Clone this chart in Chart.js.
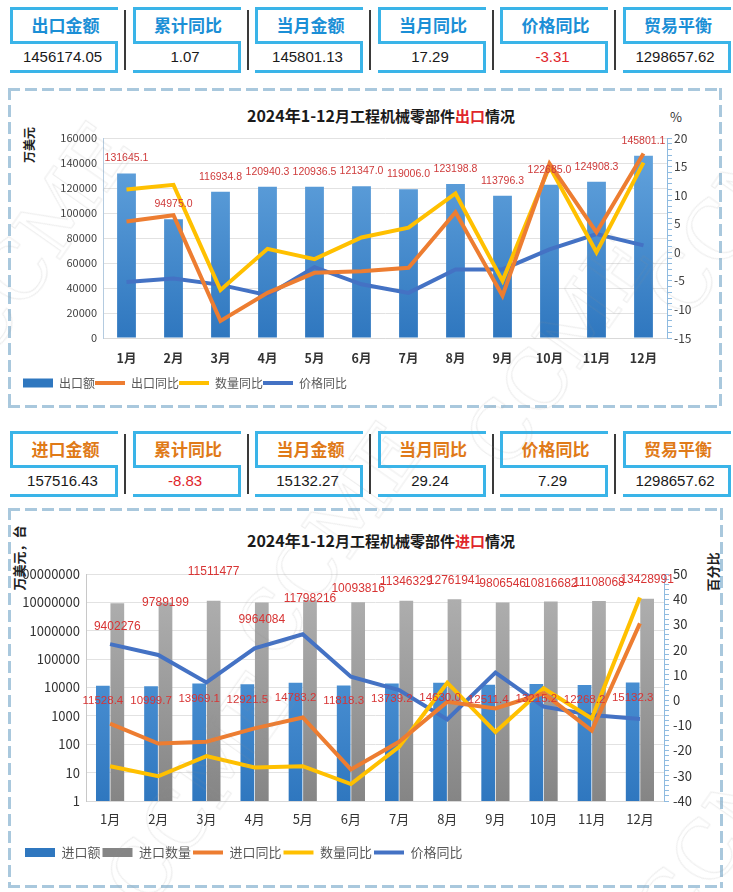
<!DOCTYPE html>
<html lang="zh-CN">
<head>
<meta charset="utf-8">
<title>2024年1-12月工程机械零部件进出口情况</title>
<script src="https://cdn.jsdelivr.net/npm/chart.js@4.4.1/dist/chart.umd.min.js"></script>
<style>
  body { margin:0; width:733px; height:892px; position:relative; overflow:hidden; background:#fff;
         font-family:"Noto Sans CJK SC","Noto Sans",sans-serif; }
  .cell { position:absolute; width:108px; height:66px; }
  .cell b { position:absolute; background:#3ab4e8; }
  .cell .t { position:absolute; left:3px; right:0; top:2px; height:32px; line-height:32px; text-align:center; font-size:17px; font-weight:700; }
  .cell .v { position:absolute; left:0; right:3px; top:36px; height:27px; line-height:27px; text-align:center; font-size:15px; color:#1a1a1a; font-family:"Liberation Sans Narrow","Liberation Sans",sans-serif; }
  .sep { position:absolute; width:2px; background:#3a3a3a; }
  .dash { position:absolute; }
  .h { height:3px; background:repeating-linear-gradient(90deg,#a9c8dd 0 12px,transparent 12px 17px); }
  .vv { width:3px; background:repeating-linear-gradient(180deg,#a9c8dd 0 12px,transparent 12px 17px); }
  .title { position:absolute; transform:translate(-50%,-50%); font-weight:700; color:#1a1a1a; white-space:nowrap; font-size:15px; }
  .title span.big { font-size:16px; }
  .title span.red { color:#e0262b; }
  .rot { position:absolute; transform:translate(-50%,-50%) rotate(-90deg); white-space:nowrap; font-weight:700; color:#222; }
  .wm { position:absolute; font:80px "DejaVu Serif",serif; color:transparent; -webkit-text-stroke:1px rgba(140,140,140,.17);
        transform:translate(-50%,-50%) rotate(-55deg); white-space:nowrap; pointer-events:none; z-index:5; }
  canvas { position:absolute; }
</style>
</head>
<body>
<div id="kpi1"></div>
<div id="kpi2"></div>

<div class="dash h" style="left:8px;top:88px;width:714px"></div>
<div class="dash h" style="left:8px;top:405px;width:714px"></div>
<div class="dash vv" style="left:8px;top:88px;height:320px"></div>
<div class="dash vv" style="left:719px;top:88px;height:320px"></div>

<div class="dash h" style="left:8px;top:508px;width:714px"></div>
<div class="dash h" style="left:8px;top:885px;width:714px"></div>
<div class="dash vv" style="left:8px;top:508px;height:380px"></div>
<div class="dash vv" style="left:720px;top:508px;height:380px"></div>

<div class="title" style="left:381px;top:115px"><span class="big">2024年1-12</span>月工程机械零部件<span class="red">出口</span>情况</div>
<div class="rot" style="left:28px;top:145px;font-size:12px">万美元</div>
<div style="position:absolute;left:670px;top:107px;font-size:13px;color:#333">%</div>
<canvas id="c1" width="710" height="312" style="left:10px;top:92px"></canvas>

<div class="title" style="left:381px;top:540px"><span class="big">2024年1-12</span>月工程机械零部件<span class="red">进口</span>情况</div>
<div class="rot" style="left:18px;top:558px;font-size:13px">万美元，台</div>
<div class="rot" style="left:712px;top:572px;font-size:13px">百分比</div>
<canvas id="c2" width="710" height="372" style="left:10px;top:512px"></canvas>

<div class="wm" style="left:40px;top:240px">CCME</div>
<div class="wm" style="left:560px;top:350px">CCME</div>
<div class="wm" style="left:330px;top:540px">CCME</div>
<div class="wm" style="left:200px;top:790px">CCME</div>
<div class="wm" style="left:730px;top:820px">CCME</div>
<div class="wm" style="left:740px;top:200px">CCME</div>

<script>
// 顶部指标
const exportKpiNames = ['出口金额', '累计同比', '当月金额', '当月同比', '价格同比', '贸易平衡'];
const exportKpiValues = ['1456174.05', '1.07', '145801.13', '17.29', '-3.31', '1298657.62'];
const importKpiNames = ['进口金额', '累计同比', '当月金额', '当月同比', '价格同比', '贸易平衡'];
const importKpiValues = ['157516.43', '-8.83', '15132.27', '29.24', '7.29', '1298657.62'];

// 月份
const months = ['1月', '2月', '3月', '4月', '5月', '6月', '7月', '8月', '9月', '10月', '11月', '12月'];

// 出口
const exportValue = [131645.1, 94975.0, 116934.8, 120940.3, 120936.5, 121347.0, 119006.0, 123198.8, 113796.3, 122685.0, 124908.3, 145801.1];
const exportYoY = [5.4, 6.5, -12.0, -7.1, -3.6, -3.3, -2.7, 7.0, -7.6, 15.5, 3.5, 17.3];
const exportQtyYoY = [11.0, 11.8, -6.6, 0.6, -1.2, 2.6, 4.3, 10.3, -5.0, 15.0, 0.0, 15.7];
const exportPriceYoY = [-5.2, -4.6, -5.7, -7.5, -2.6, -5.6, -7.1, -3.0, -3.0, 0.5, 3.2, 1.2];

// 进口
const importValue = [11528.4, 10999.7, 13969.1, 12921.5, 14783.2, 11818.3, 13739.2, 14630.0, 12511.4, 13215.2, 12268.2, 15132.3];
const importQty = [9402276, 9789199, 11511477, 9964084, 11798216, 10093816, 11346329, 12761941, 9806546, 10816682, 11108068, 13428991];
const importYoY = [-9.3, -17.2, -16.5, -11.2, -6.9, -27.5, -16.5, -0.7, -3.3, 2.7, -12.1, 30.4];
const importQtyYoY = [-26.2, -30.2, -22.2, -26.7, -26.2, -33.3, -18.5, 6.9, -12.6, 4.7, -7.3, 40.7];
const importPriceYoY = [22.2, 17.9, 7.0, 20.5, 26.1, 9.3, 4.0, -7.7, 10.9, -2.6, -5.9, -7.5];

const logTicks = [1, 10, 100, 1000, 10000, 100000, 1000000, 10000000, 100000000];

function buildKpi(el, top, names, values, titleColor) {
  let html = '';
  names.forEach(function (n, i) {
    const left = 10 + 122.5 * i;
    const neg = values[i].charAt(0) === '-';
    html += '<div class="cell" style="left:' + left + 'px;top:' + top + 'px">' +
      '<b style="left:0;top:0;width:108px;height:3px"></b>' +
      '<b style="left:0;top:0;width:3px;height:36px"></b>' +
      '<b style="left:0;top:34px;width:108px;height:3px"></b>' +
      '<b style="left:105px;top:34px;width:3px;height:32px"></b>' +
      '<b style="left:0;top:63px;width:108px;height:3px"></b>' +
      '<div class="t" style="color:' + titleColor + '">' + n + '</div>' +
      '<div class="v" style="color:' + (neg ? '#e0262b' : '#1a1a1a') + '">' + values[i] + '</div></div>';
    if (i < names.length - 1) {
      html += '<div class="sep" style="left:' + (left + 114) + 'px;top:' + (top + 3) + 'px;height:60px"></div>';
    }
  });
  document.getElementById(el).innerHTML = html;
}
buildKpi('kpi1', 7, exportKpiNames, exportKpiValues, '#1b8fd6');
buildKpi('kpi2', 431, importKpiNames, importKpiValues, '#e07a18');

Chart.defaults.font.family = '"Noto Sans CJK SC","Noto Sans",sans-serif';
Chart.defaults.color = '#404040';

function grad(c1, c2) {
  return function (c) {
    const a = c.chart.chartArea;
    if (!a) return c1;
    const g = c.chart.ctx.createLinearGradient(0, a.top, 0, a.bottom);
    g.addColorStop(0, c1);
    g.addColorStop(1, c2);
    return g;
  };
}

// 柱顶数值标签
function barLabels(id, items) {
  return {
    id: id,
    afterDatasetsDraw: function (chart) {
      const ctx = chart.ctx;
      items.forEach(function (it) {
        const meta = chart.getDatasetMeta(it.dataset);
        const vals = chart.data.datasets[it.dataset].data;
        ctx.save();
        ctx.fillStyle = it.color;
        ctx.font = it.font;
        ctx.textAlign = 'center';
        ctx.textBaseline = 'middle';
        meta.data.forEach(function (el, i) {
          const dy = it.shift ? it.shift[i] : it.offset;
          ctx.fillText(it.format(vals[i]), el.x, el.y + dy);
        });
        ctx.restore();
      });
    }
  };
}

const lineSet = function (label, data, color, axis) {
  return { type: 'line', label: label, data: data, yAxisID: axis, order: 1, borderColor: color, backgroundColor: color,
    borderWidth: 4, pointRadius: 0, pointHoverRadius: 0, pointStyle: 'line', tension: 0 };
};

// 出口图
new Chart(document.getElementById('c1'), {
  type: 'bar',
  data: {
    labels: months,
    datasets: [
      { type: 'bar', label: '出口额', data: exportValue, yAxisID: 'y', order: 2, pointStyle: 'rect',
        backgroundColor: grad('#66a6df', '#2f77bf'), barPercentage: 0.5, categoryPercentage: 0.8 },
      lineSet('出口同比', exportYoY, '#ed7d31', 'y1'),
      lineSet('数量同比', exportQtyYoY, '#ffc000', 'y1'),
      lineSet('价格同比', exportPriceYoY, '#4472c4', 'y1')
    ]
  },
  options: {
    responsive: false,
    animation: false,
    layout: { padding: { left: 13, right: 8, top: 46, bottom: 5 } },
    plugins: {
      tooltip: { enabled: false },
      legend: {
        position: 'bottom', align: 'start',
        labels: { usePointStyle: true, pointStyleWidth: 30, boxHeight: 9, padding: 0, color: '#595959',
          font: { size: 12 }, sort: function (a, b) { return a.datasetIndex - b.datasetIndex; } }
      }
    },
    scales: {
      x: {
        grid: { display: false, drawTicks: false }, border: { color: '#d9d9d9' },
        ticks: { color: '#333', font: { size: 12.5, weight: 'bold' }, padding: 13 },
        afterFit: function (s) { s.height = 39; }
      },
      y: {
        position: 'left', min: 0, max: 160000,
        ticks: { stepSize: 20000, color: '#404040', font: { size: 11 }, padding: 6,
          callback: function (v) { return String(v); } },
        grid: { color: '#e2e2e2', drawTicks: false }, border: { color: '#b4cbe0' },
        afterFit: function (s) { s.width = 80; }
      },
      y1: {
        position: 'right', min: -15, max: 20,
        ticks: { stepSize: 1, autoSkip: false, color: '#404040', font: { size: 12 }, padding: 2,
          callback: function (v) { return v % 5 === 0 ? v : ''; } },
        grid: { drawOnChartArea: false, tickLength: 5, color: '#8fbbe0' }, border: { color: '#8fbbe0' },
        afterFit: function (s) { s.width = 45; }
      }
    }
  },
  plugins: [barLabels('exportLabels', [
    { dataset: 0, offset: -15, color: '#cf3a3a', font: '10.5px "Liberation Sans",sans-serif',
      format: function (v) { return v.toFixed(1); } }
  ])]
});

// 进口图
new Chart(document.getElementById('c2'), {
  type: 'bar',
  data: {
    labels: months,
    datasets: [
      { type: 'bar', label: '进口额', data: importValue, yAxisID: 'y', order: 2, pointStyle: 'rect',
        backgroundColor: grad('#5fa3e2', '#2f77bf'), barPercentage: 0.95, categoryPercentage: 0.6 },
      { type: 'bar', label: '进口数量', data: importQty, yAxisID: 'y', order: 2, pointStyle: 'rect',
        backgroundColor: grad('#b3b3b3', '#858585'), barPercentage: 0.95, categoryPercentage: 0.6 },
      lineSet('进口同比', importYoY, '#ed7d31', 'y1'),
      lineSet('数量同比', importQtyYoY, '#ffc000', 'y1'),
      lineSet('价格同比', importPriceYoY, '#4472c4', 'y1')
    ]
  },
  options: {
    responsive: false,
    animation: false,
    layout: { padding: { left: 13, right: 8, top: 62, bottom: 15 } },
    plugins: {
      tooltip: { enabled: false },
      legend: {
        position: 'bottom', align: 'start',
        labels: { usePointStyle: true, pointStyleWidth: 30, boxHeight: 9, padding: 2, color: '#595959',
          font: { size: 13 }, sort: function (a, b) { return a.datasetIndex - b.datasetIndex; } }
      }
    },
    scales: {
      x: {
        grid: { display: false, drawTicks: false }, border: { color: '#d9d9d9' },
        ticks: { color: '#333', font: { size: 13 }, padding: 10 },
        afterFit: function (s) { s.height = 43; }
      },
      y: {
        type: 'logarithmic', position: 'left', min: 1, max: 100000000,
        afterBuildTicks: function (s) { s.ticks = logTicks.map(function (v) { return { value: v }; }); },
        ticks: { color: '#333', font: { size: 13 }, padding: 6, callback: function (v) { return String(v); } },
        grid: { color: '#e2e2e2', drawTicks: false }, border: { color: '#c8c8c8' },
        afterFit: function (s) { s.width = 63; }
      },
      y1: {
        position: 'right', min: -40, max: 50,
        ticks: { stepSize: 2, autoSkip: false, color: '#333', font: { size: 13 }, padding: 4,
          callback: function (v) { return v % 10 === 0 ? v : ''; } },
        grid: { drawOnChartArea: false, tickLength: 5, color: '#8fbbe0' }, border: { color: '#8fbbe0' },
        afterFit: function (s) { s.width = 48; }
      }
    }
  },
  plugins: [barLabels('importLabels', [
    { dataset: 0, offset: 15, color: '#d83434', font: '11.5px "Liberation Sans",sans-serif',
      format: function (v) { return v.toFixed(1); } },
    { dataset: 1, shift: [24, 0, -29, 17, -2, -14, -19, -19, -19, -18, -18, -19], color: '#d83434',
      font: '12px "Liberation Sans",sans-serif', format: function (v) { return String(v); } }
  ])]
});
</script>
</body>
</html>
